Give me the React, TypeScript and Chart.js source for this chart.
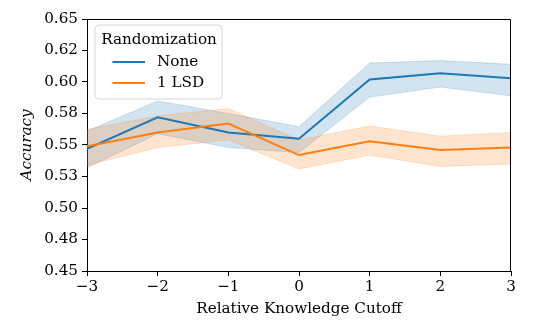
import React, { useEffect, useRef } from "react";
import { Chart, registerables } from "chart.js";

Chart.register(...registerables);

const cutoffs = [-3, -2, -1, 0, 1, 2, 3];
const noneMean = [0.547, 0.572, 0.56, 0.555, 0.602, 0.607, 0.603];
const noneUpper = [0.561, 0.585, 0.575, 0.5645, 0.615, 0.617, 0.614];
const noneLower = [0.532, 0.559, 0.548, 0.544, 0.588, 0.596, 0.589];
const lsdMean = [0.549, 0.56, 0.567, 0.542, 0.553, 0.546, 0.548];
const lsdUpper = [0.5625, 0.573, 0.579, 0.554, 0.565, 0.557, 0.56];
const lsdLower = [0.534, 0.548, 0.554, 0.531, 0.542, 0.533, 0.535];

const yTickLabels = ["0.45", "0.48", "0.50", "0.53", "0.55", "0.58", "0.60", "0.62", "0.65"];
const xTickLabels = ["\u22123", "\u22122", "\u22121", "0", "1", "2", "3"];

const legendTitle = "Randomization";
const seriesNames = ["None", "1 LSD"];
const BLUE = "#1f77b4";
const ORANGE = "#ff7f0e";
const FONT = "'DejaVu Serif', serif";
const FS = 15.2;

const pts = (ys: number[]) => cutoffs.map((x, i) => ({ x, y: ys[i] }));

const framePlugin = {
  id: "frame",
  afterDraw(chart: any) {
    const { ctx, chartArea: a } = chart;
    ctx.save();
    ctx.strokeStyle = "#000";
    ctx.lineWidth = 1;
    const t = Math.round(a.top) + 0.5;
    const rr = Math.round(a.right) - 0.5;
    ctx.beginPath();
    ctx.moveTo(a.left, t);
    ctx.lineTo(rr, t);
    ctx.lineTo(rr, a.bottom);
    ctx.stroke();

    // legend
    const bx = 95, by = 25, bw = 127, bh = 74, r = 4;
    ctx.beginPath();
    ctx.moveTo(bx + r, by);
    ctx.arcTo(bx + bw, by, bx + bw, by + bh, r);
    ctx.arcTo(bx + bw, by + bh, bx, by + bh, r);
    ctx.arcTo(bx, by + bh, bx, by, r);
    ctx.arcTo(bx, by, bx + bw, by, r);
    ctx.closePath();
    ctx.fillStyle = "rgba(255,255,255,0.8)";
    ctx.fill();
    ctx.strokeStyle = "rgba(204,204,204,0.8)";
    ctx.lineWidth = 1;
    ctx.stroke();

    ctx.fillStyle = "#000";
    ctx.font = `${FS}px ${FONT}`;
    ctx.textBaseline = "middle";
    ctx.textAlign = "center";
    ctx.fillText(legendTitle, bx + bw / 2 + 0.5, 40);
    const colors = [BLUE, ORANGE];
    const ys = [62, 83];
    seriesNames.forEach((name, i) => {
      ctx.strokeStyle = colors[i];
      ctx.lineWidth = 2;
      ctx.beginPath();
      ctx.moveTo(112.5, ys[i]);
      ctx.lineTo(145, ys[i]);
      ctx.stroke();
      ctx.textAlign = "left";
      ctx.fillStyle = "#000";
      ctx.fillText(name, 157, ys[i]);
    });
    ctx.restore();
  },
};

export default function App() {
  const ref = useRef<HTMLCanvasElement>(null);
  useEffect(() => {
    document.body.style.margin = "0";
    const band = (c: string) => c === BLUE ? "rgba(31,119,180,0.2)" : "rgba(255,127,14,0.2)";
    const chart = new Chart(ref.current!, {
      type: "line",
      data: {
        datasets: [
          { label: seriesNames[0], data: pts(noneMean), borderColor: BLUE, borderWidth: 2, pointRadius: 0, fill: false, order: 1 },
          { label: seriesNames[1], data: pts(lsdMean), borderColor: ORANGE, borderWidth: 2, pointRadius: 0, fill: false, order: 0 },
          { label: "none_hi", data: pts(noneUpper), borderColor: band(BLUE), borderWidth: 1, pointRadius: 0, backgroundColor: band(BLUE), fill: "+1", order: 3 },
          { label: "none_lo", data: pts(noneLower), borderColor: band(BLUE), borderWidth: 1, pointRadius: 0, fill: false, order: 3 },
          { label: "lsd_hi", data: pts(lsdUpper), borderColor: band(ORANGE), borderWidth: 1, pointRadius: 0, backgroundColor: band(ORANGE), fill: "+1", order: 2 },
          { label: "lsd_lo", data: pts(lsdLower), borderColor: band(ORANGE), borderWidth: 1, pointRadius: 0, fill: false, order: 2 },
        ],
      },
      options: {
        animation: false,
        responsive: false,
        layout: { padding: { left: 0, right: 23, top: 19, bottom: 0 } },
        plugins: { legend: { display: false }, tooltip: { enabled: false } },
        scales: {
          x: {
            type: "linear",
            min: -3,
            max: 3,
            afterFit: (s: any) => { s.height = 60; },
            afterBuildTicks: (s: any) => { s.ticks = cutoffs.map((v) => ({ value: v })); },
            ticks: {
              color: "#000",
              font: { family: FONT, size: FS },
              padding: 2,
              maxRotation: 0,
              callback: (_v: any, i: number) => xTickLabels[i],
            },
            grid: { drawOnChartArea: false, drawTicks: true, tickLength: 5, color: "#000" },
            border: { display: true, color: "#000", width: 1 },
            title: { display: true, text: "Relative Knowledge Cutoff", color: "#000", font: { family: FONT, size: FS }, padding: { top: 0, bottom: 13 } },
          },
          y: {
            type: "linear",
            min: 0.45,
            max: 0.65,
            afterFit: (s: any) => { s.width = 87; },
            afterBuildTicks: (s: any) => { s.ticks = yTickLabels.map((_, i) => ({ value: 0.45 + i * 0.025 })); },
            ticks: {
              color: "#000",
              font: { family: FONT, size: FS },
              padding: 4,
              callback: (_v: any, i: number) => yTickLabels[i],
            },
            grid: { drawOnChartArea: false, drawTicks: true, tickLength: 5, color: "#000" },
            border: { display: true, color: "#000", width: 1 },
            title: { display: true, text: "Accuracy", color: "#000", font: { family: FONT, size: FS, style: "italic" }, padding: { top: 18, bottom: 0 } },
          },
        },
      },
      plugins: [framePlugin],
    });
    return () => chart.destroy();
  }, []);
  return <canvas ref={ref} width={534} height={331} />;
}
